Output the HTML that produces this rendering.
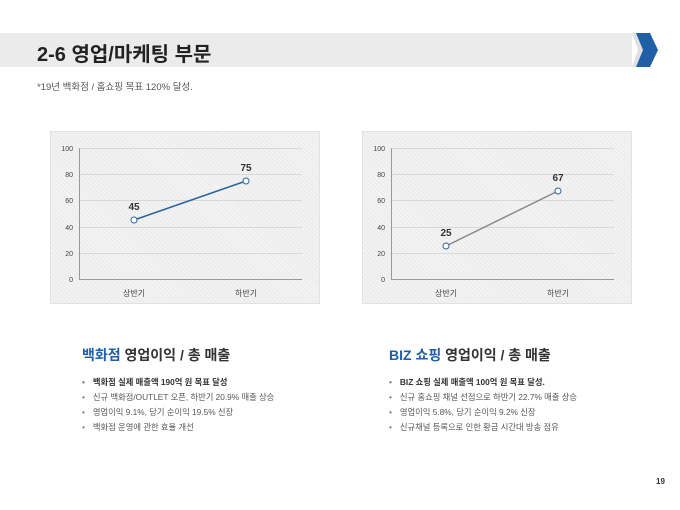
<!DOCTYPE html>
<html><head><meta charset="utf-8"><style>
body{margin:0;width:680px;height:510px;background:#fff;font-family:"Liberation Sans","Noto Sans CJK KR",sans-serif;position:relative;overflow:hidden}
.a{position:absolute;white-space:nowrap}
.box{position:absolute;background-color:#f3f3f3;background-image:repeating-linear-gradient(45deg,#e9e9e9 0 1px,transparent 1px 3px);border:1px solid #e2e2e2}
ul{margin:0;padding:0;list-style:none}
li{font-size:8.3px;color:#555;height:15px}
li:before{content:"•";margin-right:8px;color:#777}
</style></head><body>
<div class="a" style="left:0;top:33px;width:632px;height:34px;background:#ebebeb"></div>
<svg class="a" style="left:630px;top:33px" width="36" height="35"><polygon points="2,0 8,0 14,17 8,34 2,34 8,17" fill="#e0e0e0"/><polygon points="6,0 20,0 28,17 20,34 6,34 13,17" fill="#1f5fa8"/></svg>
<div class="a" style="left:37px;top:38px;font-size:20px;font-weight:bold;color:#222">2-6 영업/마케팅 부문</div>
<div class="a" style="left:37px;top:79px;font-size:9.5px;color:#555">*19년 백화점 / 홈쇼핑 목표 120% 달성.</div>

<div class="box" style="left:50px;top:131px;width:268px;height:171px"></div>
<div class="box" style="left:362px;top:131px;width:268px;height:171px"></div>
<svg class="a" style="left:0;top:0" width="680" height="320" font-family="Liberation Sans" font-size="7" fill="#444">
<g stroke="#d8d8d8" stroke-width="1">
<line x1="79" x2="302" y1="148.5" y2="148.5"/><line x1="79" x2="302" y1="174.5" y2="174.5"/><line x1="79" x2="302" y1="200.5" y2="200.5"/><line x1="79" x2="302" y1="227.5" y2="227.5"/><line x1="79" x2="302" y1="253.5" y2="253.5"/>
<line x1="391" x2="614" y1="148.5" y2="148.5"/><line x1="391" x2="614" y1="174.5" y2="174.5"/><line x1="391" x2="614" y1="200.5" y2="200.5"/><line x1="391" x2="614" y1="227.5" y2="227.5"/><line x1="391" x2="614" y1="253.5" y2="253.5"/>
</g>
<g stroke="#999"><line x1="79.5" x2="79.5" y1="148" y2="279"/><line x1="79" x2="302" y1="279.5" y2="279.5"/>
<line x1="391.5" x2="391.5" y1="148" y2="279"/><line x1="391" x2="614" y1="279.5" y2="279.5"/></g>
<g text-anchor="end"><text x="73" y="151">100</text><text x="73" y="177">80</text><text x="73" y="203">60</text><text x="73" y="230">40</text><text x="73" y="256">20</text><text x="73" y="282">0</text>
<text x="385" y="151">100</text><text x="385" y="177">80</text><text x="385" y="203">60</text><text x="385" y="230">40</text><text x="385" y="256">20</text><text x="385" y="282">0</text></g>
<g text-anchor="middle" font-family="Liberation Sans,Noto Sans CJK KR" font-size="8"><text x="134" y="296">상반기</text><text x="246" y="296">하반기</text><text x="446" y="296">상반기</text><text x="558" y="296">하반기</text></g>
<polyline points="134,220 246,181" stroke="#2a65a0" stroke-width="1.5" fill="none"/>
<polyline points="446,246 558,191" stroke="#888" stroke-width="1.5" fill="none"/>
<g fill="#fff" stroke-width="1"><circle cx="134" cy="220" r="3" stroke="#2a65a0"/><circle cx="246" cy="181" r="3" stroke="#2a65a0"/><circle cx="446" cy="246" r="3" stroke="#2a65a0"/><circle cx="558" cy="191" r="3" stroke="#2a65a0"/></g>
<g text-anchor="middle" font-size="10" font-weight="bold" fill="#333"><text x="134" y="210">45</text><text x="246" y="171">75</text><text x="446" y="236">25</text><text x="558" y="181">67</text></g>
</svg>

<div class="a" style="left:82px;top:345px;font-size:14px;font-weight:bold;color:#333"><span style="color:#1f5fa8">백화점</span> 영업이익 / 총 매출</div>
<div class="a" style="left:389px;top:345px;font-size:14px;font-weight:bold;color:#333"><span style="color:#1f5fa8">BIZ 쇼핑</span> 영업이익 / 총 매출</div>
<ul class="a" style="left:82px;top:376px"><li style="font-weight:bold;color:#333">백화점 실제 매출액 190억 원 목표 달성</li><li>신규 백화점/OUTLET 오픈, 하반기 20.9% 매출 상승</li><li>영업이익 9.1%, 당기 순이익 19.5% 신장</li><li>백화점 운영에 관한 효율 개선</li></ul>
<ul class="a" style="left:389px;top:376px"><li style="font-weight:bold;color:#333">BIZ 쇼핑 실제 매출액 100억 원 목표 달성.</li><li>신규 홈쇼핑 채널 선점으로 하반기 22.7% 매출 상승</li><li>영업이익 5.8%, 당기 순이익 9.2% 신장</li><li>신규채널 등록으로 인한 황금 시간대 방송 점유</li></ul>
<div class="a" style="left:656px;top:477px;font-size:8px;font-weight:bold;color:#333">19</div>
</body></html>
